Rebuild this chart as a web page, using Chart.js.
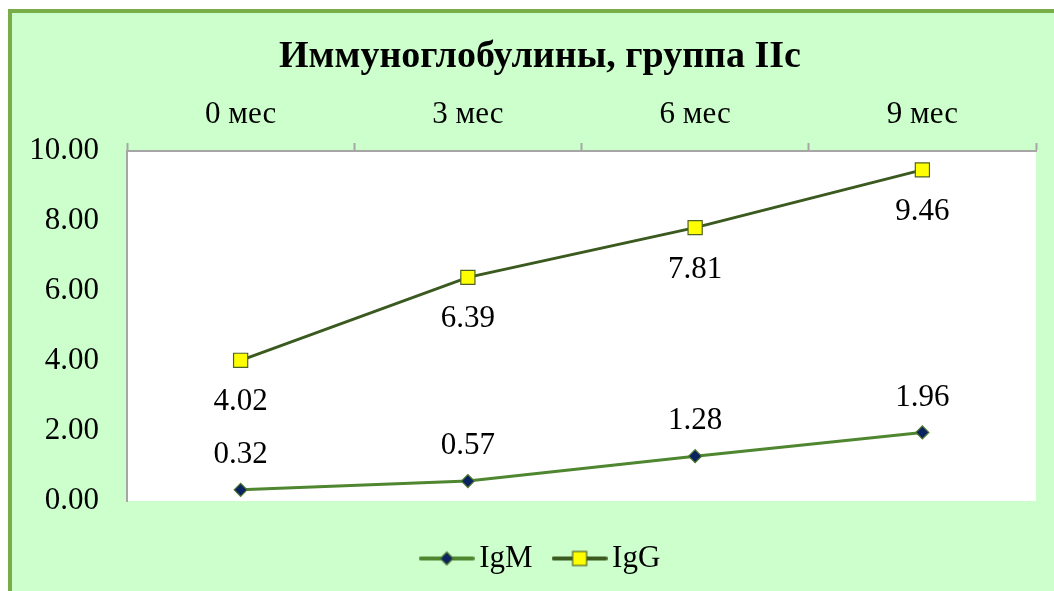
<!DOCTYPE html>
<html>
<head>
<meta charset="utf-8">
<script src="https://cdn.jsdelivr.net/npm/chart.js@4.4.1/dist/chart.umd.min.js"></script>
<style>
  html, body { margin: 0; padding: 0; background: #ffffff; overflow: hidden; }
  body { width: 1054px; height: 591px; position: relative; }
  #frame {
    position: absolute; left: 8px; top: 9px; width: 1100px; height: 640px;
    background: #CCFFCC; border-left: 4px solid #77AE4A; border-top: 4px solid #77AE4A;
  }
  #wrap { position: absolute; left: 12px; top: 0; width: 1056px; height: 591px; }
</style>
</head>
<body>
<div id="frame"></div>
<div id="wrap"><canvas id="chart" width="1056" height="591"></canvas></div>
<script>
// Immunoglobulin levels by month of follow-up
const periods = ['0 мес', '3 мес', '6 мес', '9 мес'];
const igM = [0.32, 0.57, 1.28, 1.96];
const igG = [4.02, 6.39, 7.81, 9.46];
const yTicks = [0, 2, 4, 6, 8, 10];

const serif = '"Liberation Serif", "Times New Roman", serif';
const textSize = 31;
const igMLine = '#4F8630';
const igGLine = '#3A5A1F';

// Legend glyph: a short line with the series marker in its middle
function legendGlyph(lineColor, drawMarker) {
  const c = document.createElement('canvas');
  c.width = 56; c.height = 20;
  const g = c.getContext('2d');
  g.strokeStyle = lineColor; g.lineWidth = 4; g.lineCap = 'round';
  g.beginPath(); g.moveTo(2, 10); g.lineTo(54, 10); g.stroke();
  drawMarker(g, 28, 10);
  return c;
}
const igMGlyph = legendGlyph(igMLine, (g, x, y) => {
  g.beginPath(); g.moveTo(x, y - 6.5); g.lineTo(x + 6.5, y); g.lineTo(x, y + 6.5); g.lineTo(x - 6.5, y); g.closePath();
  g.fillStyle = '#0B2360'; g.fill(); g.lineWidth = 1.2; g.strokeStyle = '#4F7A2E'; g.stroke();
});
const igGGlyph = legendGlyph(igGLine, (g, x, y) => {
  g.fillStyle = '#FFFF00'; g.fillRect(x - 7, y - 7, 14, 14);
  g.lineWidth = 1.2; g.strokeStyle = '#4F6228'; g.strokeRect(x - 7, y - 7, 14, 14);
});

// White plot area
const plotBackground = {
  id: 'plotBackground',
  beforeDraw(chart) {
    const a = chart.chartArea, ctx = chart.ctx;
    ctx.save(); ctx.fillStyle = '#ffffff';
    ctx.fillRect(a.left, a.top, a.right - a.left, a.bottom - a.top);
    ctx.restore();
  }
};

// Move the legend row down into the lower band of the frame
const legendPlacement = {
  id: 'legendPlacement',
  afterLayout(chart) {
    const lg = chart.legend;
    if (lg) { lg.top += 12; lg.bottom += 12; lg.left += 5; lg.right += 5; }
  }
};

// Value labels: IgG below its markers, IgM above
const valueLabels = {
  id: 'valueLabels',
  afterDatasetsDraw(chart) {
    const ctx = chart.ctx;
    ctx.save();
    ctx.font = textSize + 'px ' + serif;
    ctx.fillStyle = '#000000';
    ctx.textAlign = 'center';
    ctx.textBaseline = 'middle';
    chart.data.datasets.forEach((ds, i) => {
      const meta = chart.getDatasetMeta(i);
      const dy = ds.label === 'IgG' ? 42 : -35;
      meta.data.forEach((pt, j) => {
        ctx.fillText(ds.data[j].toFixed(2), pt.x, pt.y + dy);
      });
    });
    ctx.restore();
  }
};

new Chart(document.getElementById('chart'), {
  type: 'line',
  data: {
    labels: periods,
    datasets: [
      {
        label: 'IgM', data: igM,
        borderColor: igMLine, borderWidth: 3,
        pointStyle: 'rectRot', pointRadius: 6.5, pointHoverRadius: 6.5,
        pointBackgroundColor: '#0B2360', pointBorderColor: '#4F7A2E', pointBorderWidth: 1.2,
        tension: 0
      },
      {
        label: 'IgG', data: igG,
        borderColor: igGLine, borderWidth: 3,
        pointStyle: 'rect', pointRadius: 10, pointHoverRadius: 10,
        pointBackgroundColor: '#FFFF00', pointBorderColor: '#4F6228', pointBorderWidth: 1.2,
        tension: 0
      }
    ]
  },
  options: {
    responsive: false,
    animation: false,
    events: [],
    layout: { padding: { left: 0, right: 0, top: 0, bottom: 19 } },
    scales: {
      x: {
        type: 'category',
        position: 'top',
        offset: true,
        grid: {
          offset: true, drawOnChartArea: false, drawTicks: true,
          tickLength: 8, tickWidth: 2, tickColor: '#A6A6A6'
        },
        border: { display: true, color: '#A6A6A6', width: 2 },
        ticks: { padding: 9.5, color: '#000000', font: { family: serif, size: textSize }, maxRotation: 0 },
        afterFit(s) { s.height = 71.2; }
      },
      y: {
        min: 0, max: 10,
        afterBuildTicks(s) { s.ticks = yTicks.map(v => ({ value: v })); },
        grid: { drawOnChartArea: false, drawTicks: false },
        border: { display: true, color: '#A6A6A6', width: 2 },
        ticks: {
          padding: 28, color: '#000000', font: { family: serif, size: textSize },
          callback: v => Number(v).toFixed(2)
        },
        afterFit(s) { s.width = 115; }
      },
      // empty band on the right of the plot
      side: {
        position: 'right',
        display: true,
        grid: { display: false },
        border: { display: false },
        ticks: { display: false },
        afterFit(s) { s.width = 32; }
      }
    },
    plugins: {
      title: {
        display: true,
        text: 'Иммуноглобулины, группа IIс',
        color: '#000000',
        font: { family: serif, size: 38, weight: 'bold', lineHeight: 1.2 },
        padding: { top: 34.2, bottom: 0 }
      },
      legend: {
        display: true,
        position: 'bottom',
        labels: {
          usePointStyle: true,
          pointStyleWidth: 34,
          padding: 30,
          color: '#000000',
          font: { family: serif, size: textSize },
          generateLabels(chart) {
            return chart.data.datasets.map((ds, i) => ({
              text: ds.label,
              pointStyle: i === 0 ? igMGlyph : igGGlyph,
              fillStyle: 'transparent', strokeStyle: 'transparent', lineWidth: 0,
              fontColor: '#000000', hidden: false, datasetIndex: i
            }));
          }
        }
      },
      tooltip: { enabled: false }
    }
  },
  plugins: [plotBackground, legendPlacement, valueLabels]
});
</script>
</body>
</html>
